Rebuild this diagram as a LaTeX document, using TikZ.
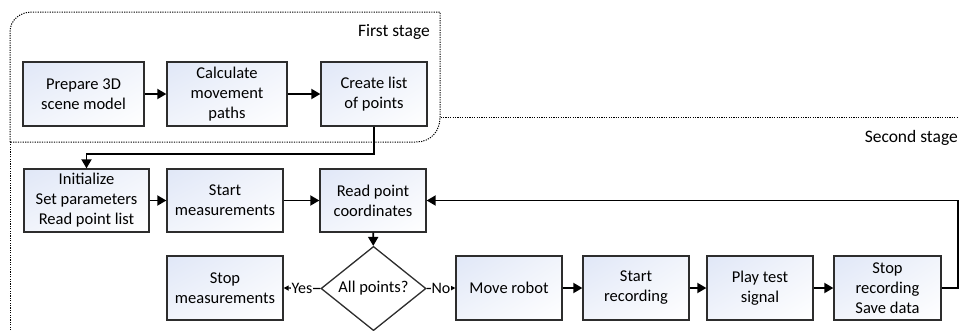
\documentclass[tikz,border=0pt]{standalone}
\usepackage{fontspec}
\setmainfont{Carlito}
\usetikzlibrary{shapes.geometric,arrows.meta,shadings}
\definecolor{boxtl}{RGB}{224,231,247}
\definecolor{boxmid}{RGB}{241,244,251}
\definecolor{boxline}{RGB}{45,45,45}
\tikzset{
  procbox/.style={draw=boxline, line width=1.3pt, rectangle, align=center,
    inner sep=0pt, minimum height=64pt, shade,
    upper left=boxtl, upper right=boxmid, lower left=boxmid, lower right=white,
    font=\fontsize{16.5}{20}\selectfont},
  decbox/.style={draw=boxline, line width=1.3pt, diamond, fill=white, align=center,
    inner sep=0pt, minimum width=105pt, minimum height=64pt,
    font=\fontsize{16.5}{20}\selectfont},
  conn/.style={draw=black, line width=1.8pt, -{Triangle[length=9pt,width=10pt]}},
  connsmall/.style={draw=black, line width=1.3pt, -{Triangle[length=5pt,width=5pt]}},
  stageline/.style={draw=black, line width=1pt, dash pattern=on 1.2pt off 1.2pt},
  stagelabel/.style={font=\fontsize{17.5}{20}\selectfont, inner sep=0pt},
  edgelabel/.style={fill=white, inner sep=0.5pt, font=\fontsize{16}{18}\selectfont}
}
\begin{document}
\begin{tikzpicture}[x=1pt,y=-1pt]
\useasboundingbox (0,0) rectangle (959,330);
% second stage container (behind)
\draw[stageline] (10,335) -- (10,117.5) -- (965,117.5);
% first stage container
\draw[stageline, fill=white] (10,142) -- (10,32) .. controls (10,20) and (20,12) .. (32,12)
  -- (440,12) -- (440,117.5) .. controls (440,131) and (431,142) .. (416,142) -- cycle;
\node[stagelabel, anchor=base east] (fs) at (430,36) {First stage};
\node[stagelabel, anchor=base east] (ss) at (958,142) {Second stage};

% first stage boxes
\node[procbox, minimum width=121pt] (b1) at (83.5,94) {Prepare 3D\\scene model};
\node[procbox, minimum width=120pt] (b2) at (227,94) {Calculate\\movement\\paths};
\node[procbox, minimum width=106pt] (b3) at (374,94) {Create list\\of points};

% second stage row 1
\node[procbox, minimum width=125pt, minimum height=63pt] (c1) at (86.5,200.5) {Initialize\\Set parameters\\Read point list};
\node[procbox, minimum width=116pt, minimum height=63pt] (c2) at (225,200.5) {Start\\measurements};
\node[procbox, minimum width=106pt, minimum height=63pt] (c3) at (373,200.5) {Read point\\coordinates};

% row 2
\node[procbox, minimum width=116pt] (d1) at (225,288) {Stop\\measurements};
\node[decbox] (dia) at (373.5,288.5) {All points?};
\node[procbox, minimum width=106pt] (e1) at (509,288) {Move robot};
\node[procbox, minimum width=106pt] (e2) at (636,288) {Start\\recording};
\node[procbox, minimum width=106pt] (e3) at (760,288) {Play test\\signal};
\node[procbox, minimum width=107pt] (e4) at (887.5,288) {Stop\\recording\\Save data};

% connectors
\draw[conn] (b1) -- (b2);
\draw[conn] (b2) -- (b3);
\draw[conn] (b3.south) -- ++(0,27) -| (c1.north);
\draw[conn] (c1) -- (c2);
\draw[conn] (c2) -- (c3);
\draw[conn] (c3) -- (dia);
\draw[connsmall] (dia.west) -- node[edgelabel] {Yes} (d1.east);
\draw[connsmall] (dia.east) -- node[edgelabel] {No} (e1.west);
\draw[conn] (e1) -- (e2);
\draw[conn] (e2) -- (e3);
\draw[conn] (e3) -- (e4);
\draw[conn] (e4.east) -- ++(16,0) |- (c3.east);
\end{tikzpicture}
\end{document}
